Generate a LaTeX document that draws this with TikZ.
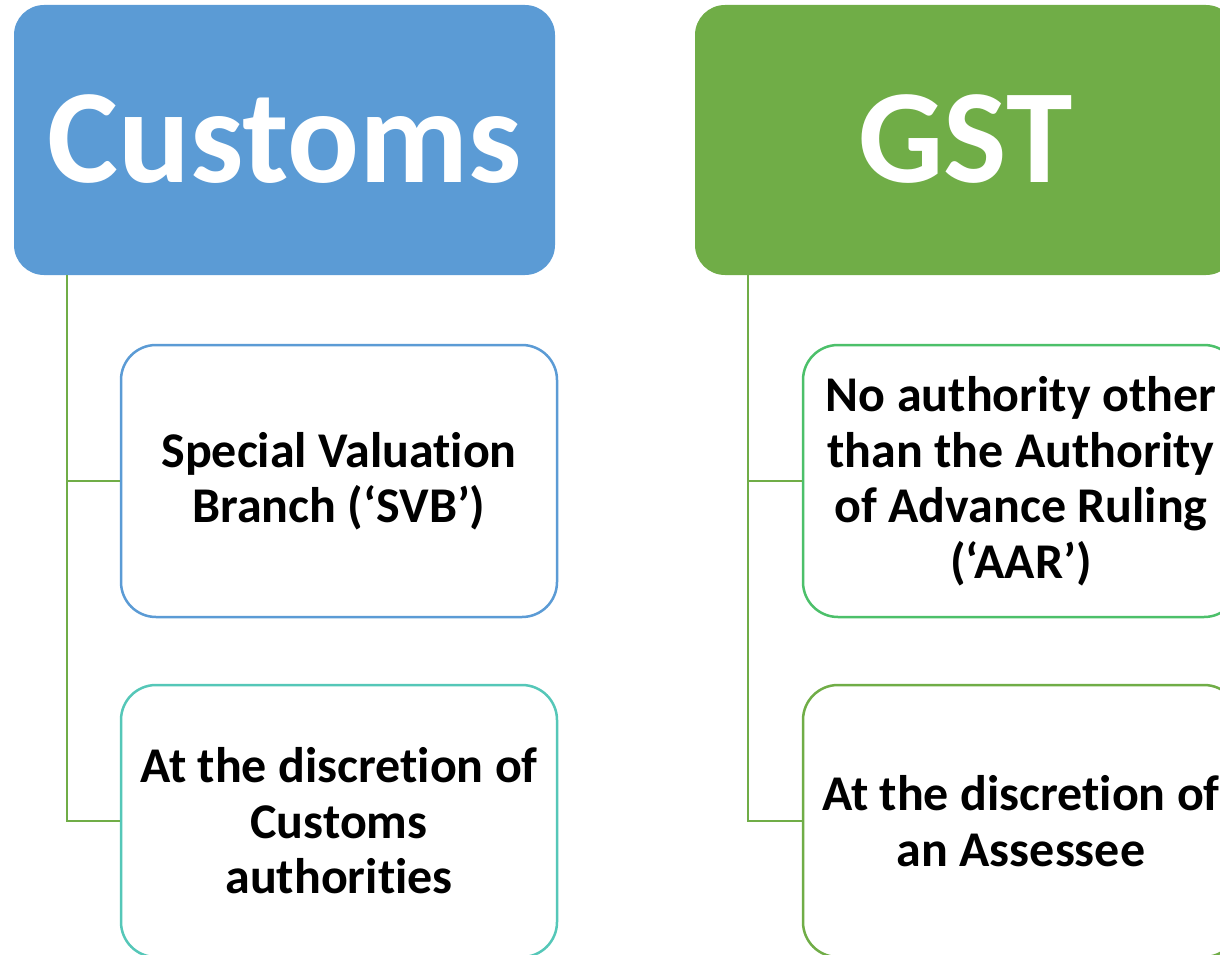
\documentclass[tikz,border=0pt]{standalone}
\usepackage{fontspec}
\setmainfont{Carlito}[Ligatures={NoCommon}]
\definecolor{cblue}{HTML}{5B9BD5}
\definecolor{cgreen}{HTML}{70AD47}
\definecolor{cteal}{HTML}{55C7B8}
\definecolor{clgreen}{HTML}{4CC06A}
\newcommand{\tiNoLig}{t\kern0pt i}
\tikzset{
  head/.style={rounded corners=30pt, minimum width=541pt, minimum height=270pt, inner sep=0pt},
  headtext/.style={text=white, font=\fontsize{134}{140}\selectfont\bfseries, anchor=base, inner sep=0pt},
  child/.style={draw, line width=2.5pt, rounded corners=35pt, fill=white, minimum width=436pt, minimum height=272pt,
    inner sep=0pt, align=center, font=\fontsize{50}{55.5}\selectfont\bfseries},
  conn/.style={draw=cgreen, line width=2.5pt},
}
\begin{document}
\begin{tikzpicture}[x=1pt,y=-1pt]
\useasboundingbox (0,0) rectangle (1220,955);
\clip (0,0) rectangle (1220,955);
% headers
\node[head, fill=cblue] (customs) at (284.5,140) {};
\node[headtext] (customsT) at (284.5,182) {Customs};
\node[head, fill=cgreen] (gst) at (965.5,140) {};
\node[headtext] (gstT) at (965.5,182) {GST};
% connector starts
\coordinate (lc) at (67,275);
\coordinate (rc) at (748,275);
% children
\node[child, draw=cblue] (svb) at (339,481) {Special Valua\tiNoLig on\\Branch (‘SVB’)};
\node[child, draw=cteal] (cda) at (339,821) {At the discre\tiNoLig on of\\Customs\\authori\tiNoLig es};
\node[child, draw=clgreen] (aar) at (1021,481) {No authority other\\than the Authority\\of Advance Ruling\\(‘AAR’)};
\node[child, draw=cgreen] (ass) at (1021,821) {At the discre\tiNoLig on of\\an Assessee};
\draw[conn] (lc) |- (svb.west);
\draw[conn] (lc) |- (cda.west);
\draw[conn] (rc) |- (aar.west);
\draw[conn] (rc) |- (ass.west);
\end{tikzpicture}
\end{document}
